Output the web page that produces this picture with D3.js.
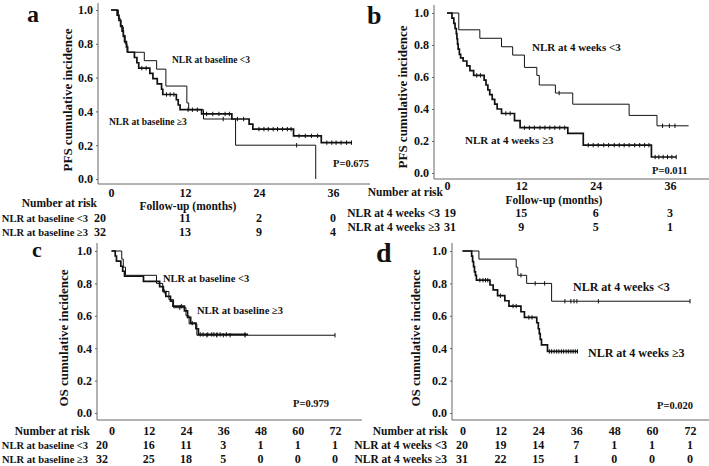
<!DOCTYPE html>
<html><head><meta charset="utf-8">
<script src="https://cdn.jsdelivr.net/npm/d3@7"></script>
<style>
body{margin:0;background:#fff}
text{font-family:"Liberation Serif","Times New Roman",serif;font-weight:bold;fill:#111}
</style>
</head><body><svg id="chart" width="709" height="466"></svg>
<script>
// ---------- shared ticks ----------
const pfsTicks = [0, 12, 24, 36];
const osTicks = [0, 12, 24, 36, 48, 60, 72];
const yTicks = [0, 0.2, 0.4, 0.6, 0.8, 1.0];

// ---------- panel a : PFS, NLR at baseline ----------
const aLowT = [0, 1.2, 1.5, 2.0, 2.3, 2.6, 5.4, 7.4, 8.9, 12.3, 12.6, 15.0, 20.2, 33.2];
const aLowS = [1, 0.95, 0.90, 0.85, 0.80, 0.75, 0.70, 0.65, 0.55, 0.45, 0.41, 0.355, 0.20, 0.0];
const aLowEnd = 33.2;
const aLowCens = [18.2, 30.1];
const aHighT = [0, 1.0, 1.3, 1.6, 1.8, 2.0, 2.2, 2.5, 2.7, 3.8, 4.2, 4.5, 6.3, 6.8, 7.5, 8.2, 8.4, 10.6, 10.9, 11.2, 14.7, 19.6, 22.4, 23.0, 29.6, 34.1];
const aHighS = [1, 0.969, 0.938, 0.906, 0.875, 0.844, 0.813, 0.781, 0.75, 0.719, 0.688, 0.656, 0.625, 0.594, 0.563, 0.531, 0.50, 0.469, 0.438, 0.41, 0.385, 0.355, 0.325, 0.295, 0.255, 0.215];
const aHighEnd = 39;
const aHighCens = [5.0, 5.7, 9.0, 9.6, 10.2, 12.5, 13.2, 14.0, 15.5, 16.5, 17.5, 18.5, 19.2, 20.5, 21.5, 24, 24.8, 25.5, 26.3, 27, 27.8, 28.6, 29.2, 30.5, 31.5, 32.5, 33.5, 35, 35.8, 36.5, 37.3, 38.2, 39];
const aRiskLow = [20, 11, 2, 0];
const aRiskHigh = [32, 13, 9, 4];

// ---------- panel b : PFS, NLR at 4 weeks ----------
const bLowT = [0, 1.9, 5.3, 8.8, 10.6, 12.5, 14.5, 14.9, 17.5, 20.3, 29.4, 33.9];
const bLowS = [1, 0.895, 0.842, 0.789, 0.737, 0.66, 0.61, 0.55, 0.50, 0.43, 0.36, 0.295];
const bLowEnd = 39;
const bLowCens = [18.1, 34.8, 35.9, 36.8];
const bHighT = [0, 0.8, 1.1, 1.3, 1.5, 1.6, 1.7, 1.8, 2.0, 2.2, 2.6, 3.2, 3.7, 4.3, 6.0, 6.3, 6.6, 6.9, 7.3, 7.7, 8.1, 8.8, 10.9, 11.8, 19.5, 22.0, 33.0];
const bHighS = [1, 0.968, 0.935, 0.903, 0.871, 0.839, 0.806, 0.774, 0.742, 0.72, 0.70, 0.67, 0.64, 0.61, 0.58, 0.55, 0.52, 0.49, 0.46, 0.43, 0.40, 0.372, 0.327, 0.283, 0.248, 0.174, 0.10];
const bHighEnd = 37;
const bHighCens = [4.8, 5.4, 9.5, 10.2, 12.5, 13.3, 14.1, 15, 15.8, 16.6, 17.4, 18.2, 19, 22.8, 23.6, 24.4, 25.3, 26.1, 27, 27.8, 28.6, 29.4, 30.3, 31.1, 31.9, 32.6, 33.6, 34.2, 34.9, 35.6, 36.3, 37];
const bRiskLow = [19, 15, 6, 3];
const bRiskHigh = [31, 9, 5, 1];

// ---------- panel c : OS, NLR at baseline ----------
const cLowT = [0, 3.3, 3.8, 4.5, 14.5, 16.5, 18.5, 20, 24, 25, 27.5];
const cLowS = [1, 0.95, 0.90, 0.85, 0.80, 0.75, 0.70, 0.65, 0.60, 0.55, 0.48];
const cLowEnd = 72;
const cLowCens = [22, 30.7, 33.9, 36, 38.2, 43, 72];
const cHighT = [0, 1.2, 1.6, 3.0, 3.6, 4.2, 10.3, 15.5, 16.7, 17.5, 19.0, 19.8, 23.5, 24.5, 25.5, 27.2, 28.0];
const cHighS = [1, 0.969, 0.938, 0.906, 0.875, 0.844, 0.812, 0.78, 0.75, 0.72, 0.69, 0.66, 0.63, 0.59, 0.555, 0.52, 0.485];
const cHighEnd = 44;
const cHighCens = [17, 22.5, 26, 28.6, 29.5, 31, 32.3, 33, 34, 35, 37, 43];
const cRiskLow = [20, 16, 11, 3, 1, 1, 1];
const cRiskHigh = [32, 25, 18, 5, 0, 0, 0];

// ---------- panel d : OS, NLR at 4 weeks ----------
const dLowT = [0, 5.2, 17, 17.5, 20.3, 28.2];
const dLowS = [1, 0.95, 0.90, 0.85, 0.80, 0.69];
const dLowEnd = 72;
const dLowCens = [18.5, 23, 26, 32.4, 34.3, 35.3, 36.2, 43, 72];
const dHighT = [0, 2.9, 3.2, 3.5, 3.8, 4.1, 4.4, 8.7, 9.7, 11.1, 13.4, 14.7, 18.5, 19.6, 23.5, 24.0, 24.3, 24.6, 25.0, 26.9];
const dHighS = [1, 0.968, 0.935, 0.903, 0.871, 0.85, 0.82, 0.79, 0.76, 0.724, 0.693, 0.66, 0.625, 0.59, 0.557, 0.52, 0.49, 0.455, 0.42, 0.38];
const dHighEnd = 36.4;
const dHighCens = [5.5, 6.5, 7.3, 8, 12, 16, 17, 21, 22, 27.5, 28.2, 29, 29.8, 30.5, 31.3, 32, 32.8, 33.5, 34.3, 35, 35.7, 36.4];
const dRiskLow = [20, 19, 14, 7, 1, 1, 1];
const dRiskHigh = [31, 22, 15, 1, 0, 0, 0];

// ---------- text ----------
const baseLowLabel = "NLR at baseline <3";
const baseHighLabel = "NLR at baseline \u22653";
const wkLowLabel = "NLR at 4 weeks <3";
const wkHighLabel = "NLR at 4 weeks \u22653";
const pValues = ["P=0.675", "P=0.011", "P=0.979", "P=0.020"];

const svg = d3.select("#chart");

function series(T, S, end) {
  const pts = T.map((t, i) => [t, S[i]]);
  if (end > T[T.length - 1]) pts.push([end, S[S.length - 1]]);
  return pts;
}
function valueAt(T, S, t) {
  const i = d3.bisectRight(T, t) - 1;
  return S[Math.max(0, i)];
}

function drawPanel(c) {
  const g = svg.append("g");
  const x = d3.scaleLinear().domain([0, c.xmax]).range([c.x0, c.x1]);
  const y = d3.scaleLinear().domain([0, 1]).range([c.y0, c.y1]);

  // axis lines
  g.append("line").attr("x1", c.ax).attr("x2", c.ax).attr("y1", c.axTop).attr("y2", c.axBottom)
    .attr("stroke", "#666").attr("stroke-width", 1);
  g.append("line").attr("x1", c.ax).attr("x2", c.axRight).attr("y1", c.axBottom).attr("y2", c.axBottom)
    .attr("stroke", "#666").attr("stroke-width", 1);

  // y axis ticks
  const ya = g.append("g").attr("transform", `translate(${c.ax},0)`)
    .call(d3.axisLeft(y).tickValues(yTicks).tickFormat(d3.format(".1f")).tickSize(2).tickPadding(3));
  ya.select(".domain").remove();
  ya.selectAll("line").attr("stroke", "#666");
  ya.selectAll("text").attr("font-size", 12).attr("font-family", "Liberation Serif").attr("font-weight", "bold").attr("fill", "#111");

  // x tick labels
  const xa = g.append("g").attr("transform", `translate(0,${c.tickTop})`)
    .call(d3.axisBottom(x).tickValues(c.ticks).tickSize(0).tickPadding(0));
  xa.select(".domain").remove();
  xa.selectAll("text").attr("font-size", 12).attr("font-family", "Liberation Serif").attr("font-weight", "bold").attr("fill", "#111");

  const line = d3.line().x(d => x(d[0])).y(d => y(d[1])).curve(d3.curveStepAfter);
  c.curves.forEach(cv => {
    g.append("path").attr("d", line(series(cv.T, cv.S, cv.end)))
      .attr("fill", "none").attr("stroke", "#111").attr("stroke-width", cv.w);
    g.selectAll(null).data(cv.cens).enter().append("line")
      .attr("x1", d => x(d)).attr("x2", d => x(d))
      .attr("y1", d => y(valueAt(cv.T, cv.S, d)) - 2.2)
      .attr("y2", d => y(valueAt(cv.T, cv.S, d)) + 2.2)
      .attr("stroke", "#111").attr("stroke-width", 1);
  });

  // panel letter
  g.append("text").attr("x", c.letter[0]).attr("y", c.letter[1]).text(c.letter[2])
    .attr("font-size", c.letter[3]).attr("font-weight", c.letter[4]);

  // y title
  g.append("text").attr("transform", `translate(${c.title[0]},${c.title[1]}) rotate(-90)`)
    .attr("text-anchor", "middle").attr("font-size", 13).text(c.title[2]);

  // annotations
  c.notes.forEach(n => g.append("text").attr("x", n[0]).attr("y", n[1]).attr("font-size", c.noteSize).text(n[2]));
  g.append("text").attr("x", c.p[0]).attr("y", c.p[1]).attr("font-size", 10.5).text(c.p[2]);

  // follow-up label
  if (c.follow) g.append("text").attr("x", c.follow[0]).attr("y", c.follow[1])
    .attr("text-anchor", "middle").attr("font-size", 11.5).text("Follow-up (months)");

  // risk table
  g.append("text").attr("x", c.nar[0]).attr("y", c.nar[1]).attr("text-anchor", "end")
    .attr("font-size", 11.5).text("Number at risk");
  c.rows.forEach(r => {
    g.append("text").attr("x", c.rowLabelX).attr("y", r.y).attr("text-anchor", "end")
      .attr("font-size", c.rowSize).text(r.label);
    g.selectAll(null).data(r.vals).enter().append("text")
      .attr("x", (d, i) => i === 0 ? c.firstNumX : x(c.ticks[i]))
      .attr("y", r.y).attr("text-anchor", "middle").attr("font-size", 12).text(d => d);
  });
}

drawPanel({
  xmax: 36, x0: 111, x1: 333, y0: 179, y1: 10, ax: 98, axTop: 3, axBottom: 184, axRight: 370, tickTop: 188,
  ticks: pfsTicks,
  curves: [
    {T: aLowT, S: aLowS, end: aLowEnd, cens: aLowCens, w: 1},
    {T: aHighT, S: aHighS, end: aHighEnd, cens: aHighCens, w: 1.7}
  ],
  letter: [27, 22, "a", 24, "normal"],
  title: [72, 100, "PFS cumulative incidence"],
  noteSize: 9.5,
  notes: [[172, 63, baseLowLabel], [109, 125, baseHighLabel]],
  p: [333, 167, pValues[0]],
  follow: [188, 210],
  nar: [97, 207],
  rowSize: 10.5, rowLabelX: 88, firstNumX: 100,
  rows: [{y: 222, label: baseLowLabel, vals: aRiskLow}, {y: 236, label: baseHighLabel, vals: aRiskHigh}]
});

drawPanel({
  xmax: 36, x0: 447, x1: 670, y0: 173, y1: 13, ax: 434, axTop: 5, axBottom: 179, axRight: 709, tickTop: 181,
  ticks: pfsTicks,
  curves: [
    {T: bLowT, S: bLowS, end: bLowEnd, cens: bLowCens, w: 1},
    {T: bHighT, S: bHighS, end: bHighEnd, cens: bHighCens, w: 1.7}
  ],
  letter: [367, 24, "b", 26, "normal"],
  title: [407, 97, "PFS cumulative incidence"],
  noteSize: 11,
  notes: [[532, 51, wkLowLabel], [465, 144, wkHighLabel]],
  p: [652, 174, pValues[1]],
  follow: [554, 204],
  nar: [443, 196],
  rowSize: 11.5, rowLabelX: 440, firstNumX: 450,
  rows: [{y: 217, label: wkLowLabel, vals: bRiskLow}, {y: 231, label: wkHighLabel, vals: bRiskHigh}]
});

drawPanel({
  xmax: 72, x0: 111.5, x1: 335, y0: 413, y1: 251, ax: 97, axTop: 243, axBottom: 420, axRight: 362, tickTop: 426,
  ticks: osTicks,
  curves: [
    {T: cLowT, S: cLowS, end: cLowEnd, cens: cLowCens, w: 1},
    {T: cHighT, S: cHighS, end: cHighEnd, cens: cHighCens, w: 1.7}
  ],
  letter: [32, 257, "c", 22, "bold"],
  title: [68, 338, "OS cumulative incidence"],
  noteSize: 10.5,
  notes: [[163, 282, baseLowLabel], [197, 314, baseHighLabel]],
  p: [293, 407, pValues[2]],
  follow: null,
  nar: [90, 435],
  rowSize: 10.5, rowLabelX: 88, firstNumX: 102,
  rows: [{y: 449, label: baseLowLabel, vals: cRiskLow}, {y: 463, label: baseHighLabel, vals: cRiskHigh}]
});

drawPanel({
  xmax: 72, x0: 462.5, x1: 690, y0: 413, y1: 251, ax: 452, axTop: 243, axBottom: 420, axRight: 709, tickTop: 426,
  ticks: osTicks,
  curves: [
    {T: dLowT, S: dLowS, end: dLowEnd, cens: dLowCens, w: 1},
    {T: dHighT, S: dHighS, end: dHighEnd, cens: dHighCens, w: 1.7}
  ],
  letter: [376, 262, "d", 28, "normal"],
  title: [420, 338, "OS cumulative incidence"],
  noteSize: 12,
  notes: [[573, 291, wkLowLabel], [588, 357, wkHighLabel]],
  p: [657, 409, pValues[3]],
  follow: null,
  nar: [448, 435],
  rowSize: 11.5, rowLabelX: 447, firstNumX: 462,
  rows: [{y: 449, label: wkLowLabel, vals: dRiskLow}, {y: 463, label: wkHighLabel, vals: dRiskHigh}]
});
</script>
</body></html>
